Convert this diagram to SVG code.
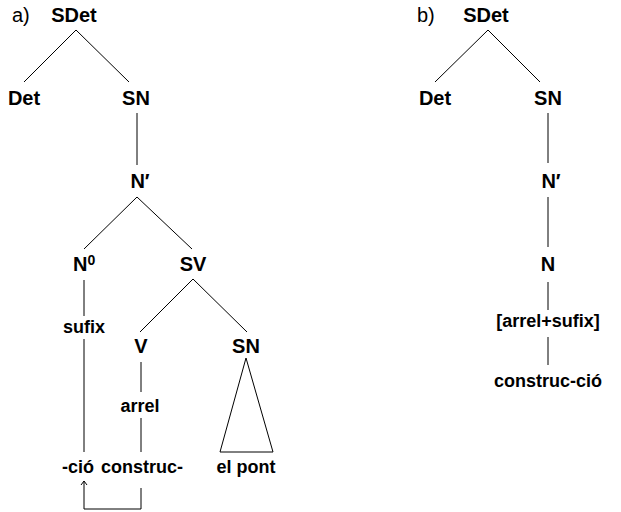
<svg xmlns="http://www.w3.org/2000/svg" width="621" height="512" viewBox="0 0 621 512">
<style>
text{font-family:"Liberation Sans",Arial,sans-serif;fill:#000}
.b{font-size:20px;font-weight:bold;text-anchor:middle}
.s{font-size:18px;font-weight:bold;text-anchor:middle}
.l{font-size:20px;font-weight:normal}
.e line,.e path,.e polygon{stroke:#000;stroke-width:1;fill:none}
</style>
<defs>
<marker id="ah" viewBox="0 0 8 8" refX="7" refY="4" markerWidth="8" markerHeight="8" markerUnits="userSpaceOnUse" orient="auto">
<path d="M3,1 L7,4 L3,7" fill="none" stroke="#000" stroke-width="1"/>
</marker>
</defs>
<rect width="621" height="512" fill="#fff"/>
<g id="edges" class="e">
<line x1="76" y1="30" x2="24" y2="82"/>
<line x1="76" y1="30" x2="129" y2="82"/>
<line x1="137" y1="113" x2="137" y2="165"/>
<line x1="137" y1="197" x2="84" y2="249"/>
<line x1="137" y1="197" x2="192" y2="249"/>
<line x1="84" y1="280" x2="84" y2="316"/>
<line x1="84" y1="339" x2="84" y2="452"/>
<line x1="193" y1="279" x2="140" y2="332"/>
<line x1="193" y1="279" x2="247" y2="332"/>
<line x1="141" y1="362" x2="141" y2="392"/>
<line x1="141" y1="418" x2="141" y2="452"/>
<polygon points="246,358 220,452 273,452"/>
<path d="M141,488 V509 H84 V481" marker-end="url(#ah)"/>
<line x1="488" y1="30" x2="435" y2="82"/>
<line x1="488" y1="30" x2="540" y2="82"/>
<line x1="548" y1="113" x2="548" y2="163"/>
<line x1="548" y1="197" x2="548" y2="247"/>
<line x1="548" y1="282" x2="548" y2="310"/>
<line x1="548" y1="337" x2="548" y2="365"/>
</g>
<g id="labels-a">
<text class="l" x="12" y="22">a)</text>
<g id="a-SDet"><text class="b" x="74" y="22">SDet</text></g>
<g id="a-Det"><text class="b" x="24" y="105">Det</text></g>
<g id="a-SN"><text class="b" x="136" y="105">SN</text></g>
<g id="a-Nbar"><text class="b" x="140" y="188">N′</text></g>
<g id="a-N0"><text class="b" x="73" y="271" style="text-anchor:start">N<tspan font-size="14" dy="-6">0</tspan></text></g>
<g id="a-SV"><text class="b" x="193" y="271">SV</text></g>
<g id="a-sufix"><text class="s" x="84" y="333">sufix</text></g>
<g id="a-V"><text class="b" x="141" y="353">V</text></g>
<g id="a-SN2"><text class="b" x="246" y="353">SN</text></g>
<g id="a-arrel"><text class="s" x="140" y="412">arrel</text></g>
<g id="a-cio"><text class="s" x="78" y="473">-ció</text></g>
<g id="a-construc"><text class="s" x="142" y="473">construc-</text></g>
<g id="a-elpont"><text class="s" x="246" y="473">el pont</text></g>
</g>
<g id="labels-b">
<text class="l" x="417" y="22">b)</text>
<g id="b-SDet"><text class="b" x="486" y="22">SDet</text></g>
<g id="b-Det"><text class="b" x="435" y="105">Det</text></g>
<g id="b-SN"><text class="b" x="548" y="105">SN</text></g>
<g id="b-Nbar"><text class="b" x="551" y="188">N′</text></g>
<g id="b-N"><text class="b" x="548" y="271">N</text></g>
<g id="b-arrelsufix"><text class="s" x="548" y="327">[arrel+sufix]</text></g>
<g id="b-construccio"><text class="s" x="548" y="387">construc-ció</text></g>
</g>
</svg>
